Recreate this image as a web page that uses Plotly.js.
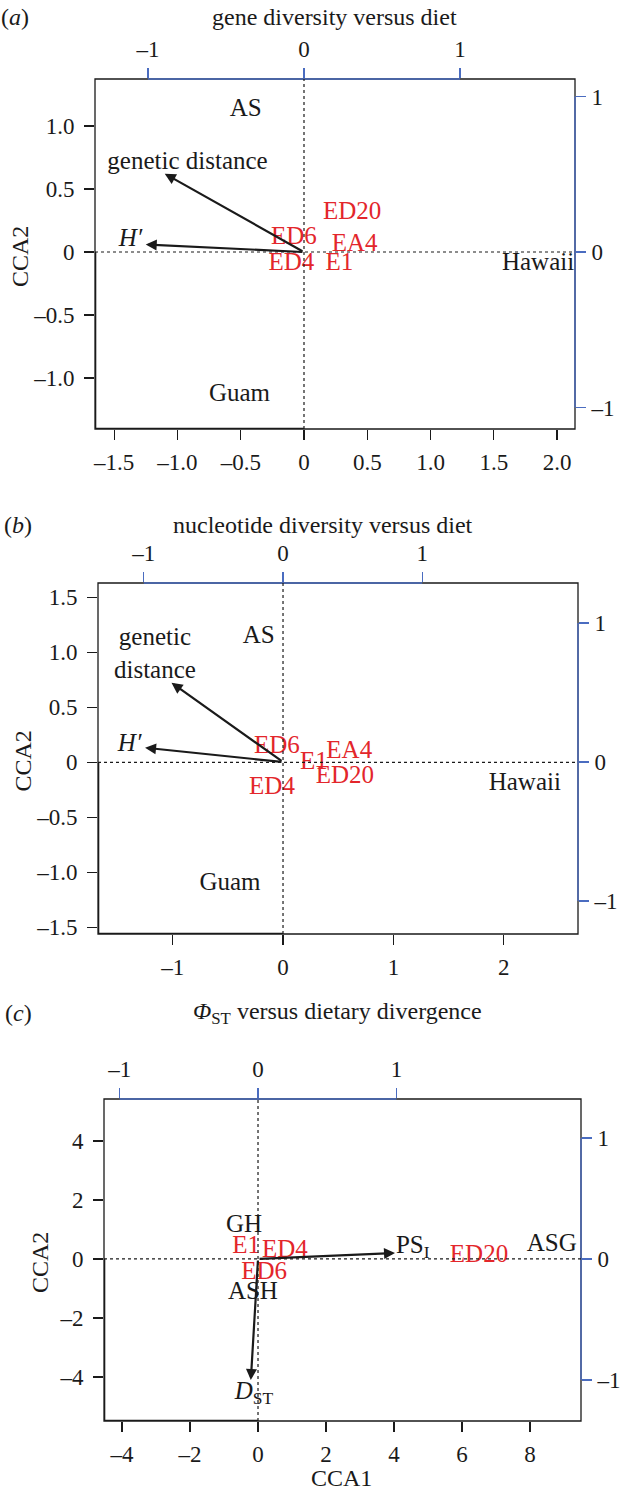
<!DOCTYPE html>
<html><head><meta charset="utf-8">
<script src="https://cdn.plot.ly/plotly-3.0.1.min.js"></script>
<style>html,body{margin:0;padding:0;background:#fff}#plot{width:621px;height:1493px}</style>
</head><body><div id="plot"></div>
<script>
// ---------- data: panel (a) gene diversity versus diet ----------
const aSiteNames = ['AS', 'Guam', 'Hawaii'];
const aSiteX = [-0.46, -0.51, 1.85];
const aSiteY = [1.13, -1.135, -0.095];
const aDietNames = ['ED20', 'ED6', 'EA4', 'ED4', 'E1'];
const aDietX = [0.38, -0.08, 0.40, -0.10, 0.28];
const aDietY = [0.31, 0.11, 0.055, -0.09, -0.095];
const aVarNames = ['genetic distance', '<i>H′</i>'];
const aVarX = [-0.892, -1.014];      // biplot arrow heads (top/right axes)
const aVarY = [0.504, 0.049];
const aVarLabX = [-0.746, -1.111];
const aVarLabY = [0.577, 0.077];

// ---------- data: panel (b) nucleotide diversity versus diet ----------
const bSiteNames = ['AS', 'Guam', 'Hawaii'];
const bSiteX = [-0.22, -0.48, 2.19];
const bSiteY = [1.145, -1.10, -0.19];
const bDietNames = ['ED6', 'E1', 'EA4', 'ED20', 'ED4'];
const bDietX = [-0.055, 0.28, 0.60, 0.56, -0.10];
const bDietY = [0.14, 0.0, 0.10, -0.13, -0.23];
const bVarNames = ['genetic<br>distance', '<i>H′</i>'];
const bVarX = [-0.801, -0.991];
const bVarY = [0.570, 0.103];
const bVarLabX = [-0.920, -1.102];
const bVarLabY = [0.767, 0.123];

// ---------- data: panel (c) PhiST versus dietary divergence ----------
const cSiteNames = ['GH', 'ASH', 'ASG'];
const cSiteX = [-0.41, -0.15, 8.64];
const cSiteY = [1.12, -1.15, 0.47];
const cDietNames = ['E1', 'ED4', 'ED6', 'ED20'];
const cDietX = [-0.35, 0.79, 0.18, 6.5];
const cDietY = [0.41, 0.27, -0.47, 0.10];
const cVarNames = ['PS<sub>I</sub>', '<i>D</i><sub>ST</sub>'];
const cVarX = [0.990, -0.052];
const cVarY = [0.049, -1.0];
const cVarLabX = [1.118, -0.029];
const cVarLabY = [0.100, -1.107];

// ---------- tick labels ----------
const aBottomTicks = [-1.5, -1.0, -0.5, 0, 0.5, 1.0, 1.5, 2.0];
const aBottomText = ['–1.5', '–1.0', '–0.5', '0', '0.5', '1.0', '1.5', '2.0'];
const aLeftTicks = [-1.0, -0.5, 0, 0.5, 1.0];
const aLeftText = ['–1.0', '–0.5', '0', '0.5', '1.0'];
const bBottomTicks = [-1, 0, 1, 2];
const bBottomText = ['–1', '0', '1', '2'];
const bLeftTicks = [-1.5, -1.0, -0.5, 0, 0.5, 1.0, 1.5];
const bLeftText = ['–1.5', '–1.0', '–0.5', '0', '0.5', '1.0', '1.5'];
const cBottomTicks = [-4, -2, 0, 2, 4, 6, 8];
const cBottomText = ['–4', '–2', '0', '2', '4', '6', '8'];
const cLeftTicks = [-4, -2, 0, 2, 4];
const cLeftText = ['–4', '–2', '0', '2', '4'];
const bipTicks = [-1, 0, 1];
const bipText = ['–1', '0', '1'];

const titles = ['gene diversity versus diet', 'nucleotide diversity versus diet', '<i>Φ</i><sub>ST</sub> versus dietary divergence'];
const panelTags = ['(<i>a</i>)', '(<i>b</i>)', '(<i>c</i>)'];

// ---------- layout constants ----------
const W = 621, H = 1493;
const FONT = 'Liberation Serif, Times New Roman, serif';
const FS_TICK = 23, FS_LAB = 25, FS_TITLE = 24;
const BLACK = '#1a1a1a', RED = '#e3262b', BLUE = '#4a6cc0';
const px = v => v / W, py = v => 1 - v / H;

const panels = [
  {id: ['x', 'y', 'x2', 'y2'], l: 95, r: 575, t: 79, b: 429, xr: [-1.652, 2.142], yr: [-1.405, 1.373], tr: [-1.339, 1.737], rr: [-1.138, 1.113],
   bt: aBottomTicks, btx: aBottomText, lt: aLeftTicks, ltx: aLeftText, titleX: 335, titleY: 17, tagX: 15, ylabX: 20,
   sites: [aSiteNames, aSiteX, aSiteY], diet: [aDietNames, aDietX, aDietY], vars: [aVarNames, aVarX, aVarY, aVarLabX, aVarLabY]},
  {id: ['x3', 'y3', 'x4', 'y4'], l: 98, r: 578, t: 583, b: 934, xr: [-1.676, 2.672], yr: [-1.56, 1.63], tr: [-1.329, 2.119], rr: [-1.237, 1.288],
   bt: bBottomTicks, btx: bBottomText, lt: bLeftTicks, ltx: bLeftText, titleX: 323, titleY: 525, tagX: 18, ylabX: 22,
   sites: [bSiteNames, bSiteX, bSiteY], diet: [bDietNames, bDietX, bDietY], vars: [bVarNames, bVarX, bVarY, bVarLabX, bVarLabY]},
  {id: ['x5', 'y5', 'x6', 'y6'], l: 104, r: 581, t: 1099, b: 1421, xr: [-4.53, 9.5], yr: [-5.49, 5.42], tr: [-1.113, 2.334], rr: [-1.339, 1.322],
   bt: cBottomTicks, btx: cBottomText, lt: cLeftTicks, ltx: cLeftText, titleX: 337, titleY: 1013, tagX: 18, ylabX: 40,
   sites: [cSiteNames, cSiteX, cSiteY], diet: [cDietNames, cDietX, cDietY], vars: [cVarNames, cVarX, cVarY, cVarLabX, cVarLabY]}
];

const axName = id => (id === 'x' ? 'xaxis' : id === 'y' ? 'yaxis' : (id[0] === 'x' ? 'xaxis' : 'yaxis') + id.slice(1));
const tickfont = {family: FONT, size: FS_TICK, color: BLACK};
const layout = {
  width: W, height: H, margin: {l: 0, r: 0, t: 0, b: 0}, showlegend: false,
  paper_bgcolor: '#fff', plot_bgcolor: '#fff', font: {family: FONT, size: FS_TICK, color: BLACK},
  shapes: [], annotations: []
};
const traces = [];

panels.forEach((p, i) => {
  const [xb, yl, xt, yr] = p.id;
  const common = {showgrid: false, zeroline: false, showline: false, ticks: 'outside', ticklen: 10, tickwidth: 1.2,
    tickfont: tickfont, automargin: false, fixedrange: true};
  layout[axName(xb)] = Object.assign({}, common, {domain: [px(p.l), px(p.r)], range: p.xr, anchor: yl,
    tickmode: 'array', tickvals: p.bt, ticktext: p.btx, tickcolor: BLACK, ticklabelstandoff: 2});
  layout[axName(yl)] = Object.assign({}, common, {domain: [py(p.b), py(p.t)], range: p.yr, anchor: xb,
    tickmode: 'array', tickvals: p.lt, ticktext: p.ltx, tickcolor: BLACK, ticklabelstandoff: 5});
  layout[axName(xt)] = Object.assign({}, common, {overlaying: xb, side: 'top', anchor: yl, range: p.tr,
    tickmode: 'array', tickvals: bipTicks, ticktext: bipText, tickcolor: BLUE, ticklabelstandoff: 2});
  layout[axName(yr)] = Object.assign({}, common, {overlaying: yl, side: 'right', anchor: xb, range: p.rr,
    tickmode: 'array', tickvals: bipTicks, ticktext: bipText, tickcolor: BLUE, ticklabelstandoff: 1});

  // box
  layout.shapes.push({type: 'rect', xref: xb + ' domain', yref: yl + ' domain', x0: 0, x1: 1, y0: 0, y1: 1,
    line: {color: BLACK, width: 1.3}, layer: 'above'});
  // blue biplot axis lines
  layout.shapes.push({type: 'line', xref: xt, yref: yl + ' domain', x0: bipTicks[0], x1: bipTicks[2], y0: 1, y1: 1,
    line: {color: BLUE, width: 1.4}, layer: 'above'});
  layout.shapes.push({type: 'line', xref: xb + ' domain', yref: yr, x0: 1, x1: 1, y0: bipTicks[0], y1: bipTicks[2],
    line: {color: BLUE, width: 1.4}, layer: 'above'});
  // dotted zero lines
  layout.shapes.push({type: 'line', xref: xb + ' domain', yref: yl, x0: 0, x1: 1, y0: 0, y1: 0,
    line: {color: BLACK, width: 1.2, dash: 'dot'}, layer: 'above'});
  layout.shapes.push({type: 'line', xref: xb, yref: yl + ' domain', x0: 0, x1: 0, y0: 0, y1: 1,
    line: {color: BLACK, width: 1.2, dash: 'dot'}, layer: 'above'});
  // heavy lower-left edge
  layout.shapes.push({type: 'path', xref: xb, yref: yl,
    path: `M ${p.xr[0]} 0 L ${p.xr[0]} ${p.yr[0]} L 0 ${p.yr[0]}`,
    line: {color: BLACK, width: 2.6}, layer: 'above'});

  // text labels
  traces.push({type: 'scatter', mode: 'text', xaxis: xb, yaxis: yl, x: p.sites[1], y: p.sites[2], text: p.sites[0],
    textfont: {family: FONT, size: FS_LAB, color: BLACK}, textposition: 'middle center', cliponaxis: false, hoverinfo: 'skip'});
  traces.push({type: 'scatter', mode: 'text', xaxis: xb, yaxis: yl, x: p.diet[1], y: p.diet[2], text: p.diet[0],
    textfont: {family: FONT, size: FS_LAB, color: RED}, textposition: 'middle center', cliponaxis: false, hoverinfo: 'skip'});
  traces.push({type: 'scatter', mode: 'text', xaxis: xt, yaxis: yr, x: p.vars[3], y: p.vars[4], text: p.vars[0],
    textfont: {family: FONT, size: FS_LAB, color: BLACK}, textposition: 'middle center', cliponaxis: false, hoverinfo: 'skip'});
  // arrows
  p.vars[1].forEach((vx, k) => {
    layout.annotations.push({xref: xt, yref: yr, axref: xt, ayref: yr, x: vx, y: p.vars[2][k], ax: 0, ay: 0,
      text: '', showarrow: true, arrowhead: 2, arrowsize: 1, arrowwidth: 2.2, arrowcolor: BLACK, standoff: 0, startstandoff: 0});
  });

  // titles and tags
  layout.annotations.push({xref: 'paper', yref: 'paper', x: px(p.titleX), y: py(p.titleY), text: titles[i],
    showarrow: false, xanchor: 'center', yanchor: 'middle', font: {family: FONT, size: FS_TITLE, color: BLACK}});
  layout.annotations.push({xref: 'paper', yref: 'paper', x: px(p.tagX), y: py(p.titleY), text: panelTags[i],
    showarrow: false, xanchor: 'center', yanchor: 'middle', font: {family: FONT, size: FS_TITLE, color: BLACK}});
  layout.annotations.push({xref: 'paper', yref: 'paper', x: px(p.ylabX), y: py((p.t + p.b) / 2 + 3), text: 'CCA2',
    textangle: -90, showarrow: false, xanchor: 'center', yanchor: 'middle', font: {family: FONT, size: FS_TITLE, color: BLACK}});
});
layout.annotations.push({xref: 'paper', yref: 'paper', x: px(341), y: py(1478), text: 'CCA1',
  showarrow: false, xanchor: 'center', yanchor: 'middle', font: {family: FONT, size: FS_TITLE, color: BLACK}});

Plotly.newPlot('plot', traces, layout, {staticPlot: true, displayModeBar: false});
</script>
</body></html>
